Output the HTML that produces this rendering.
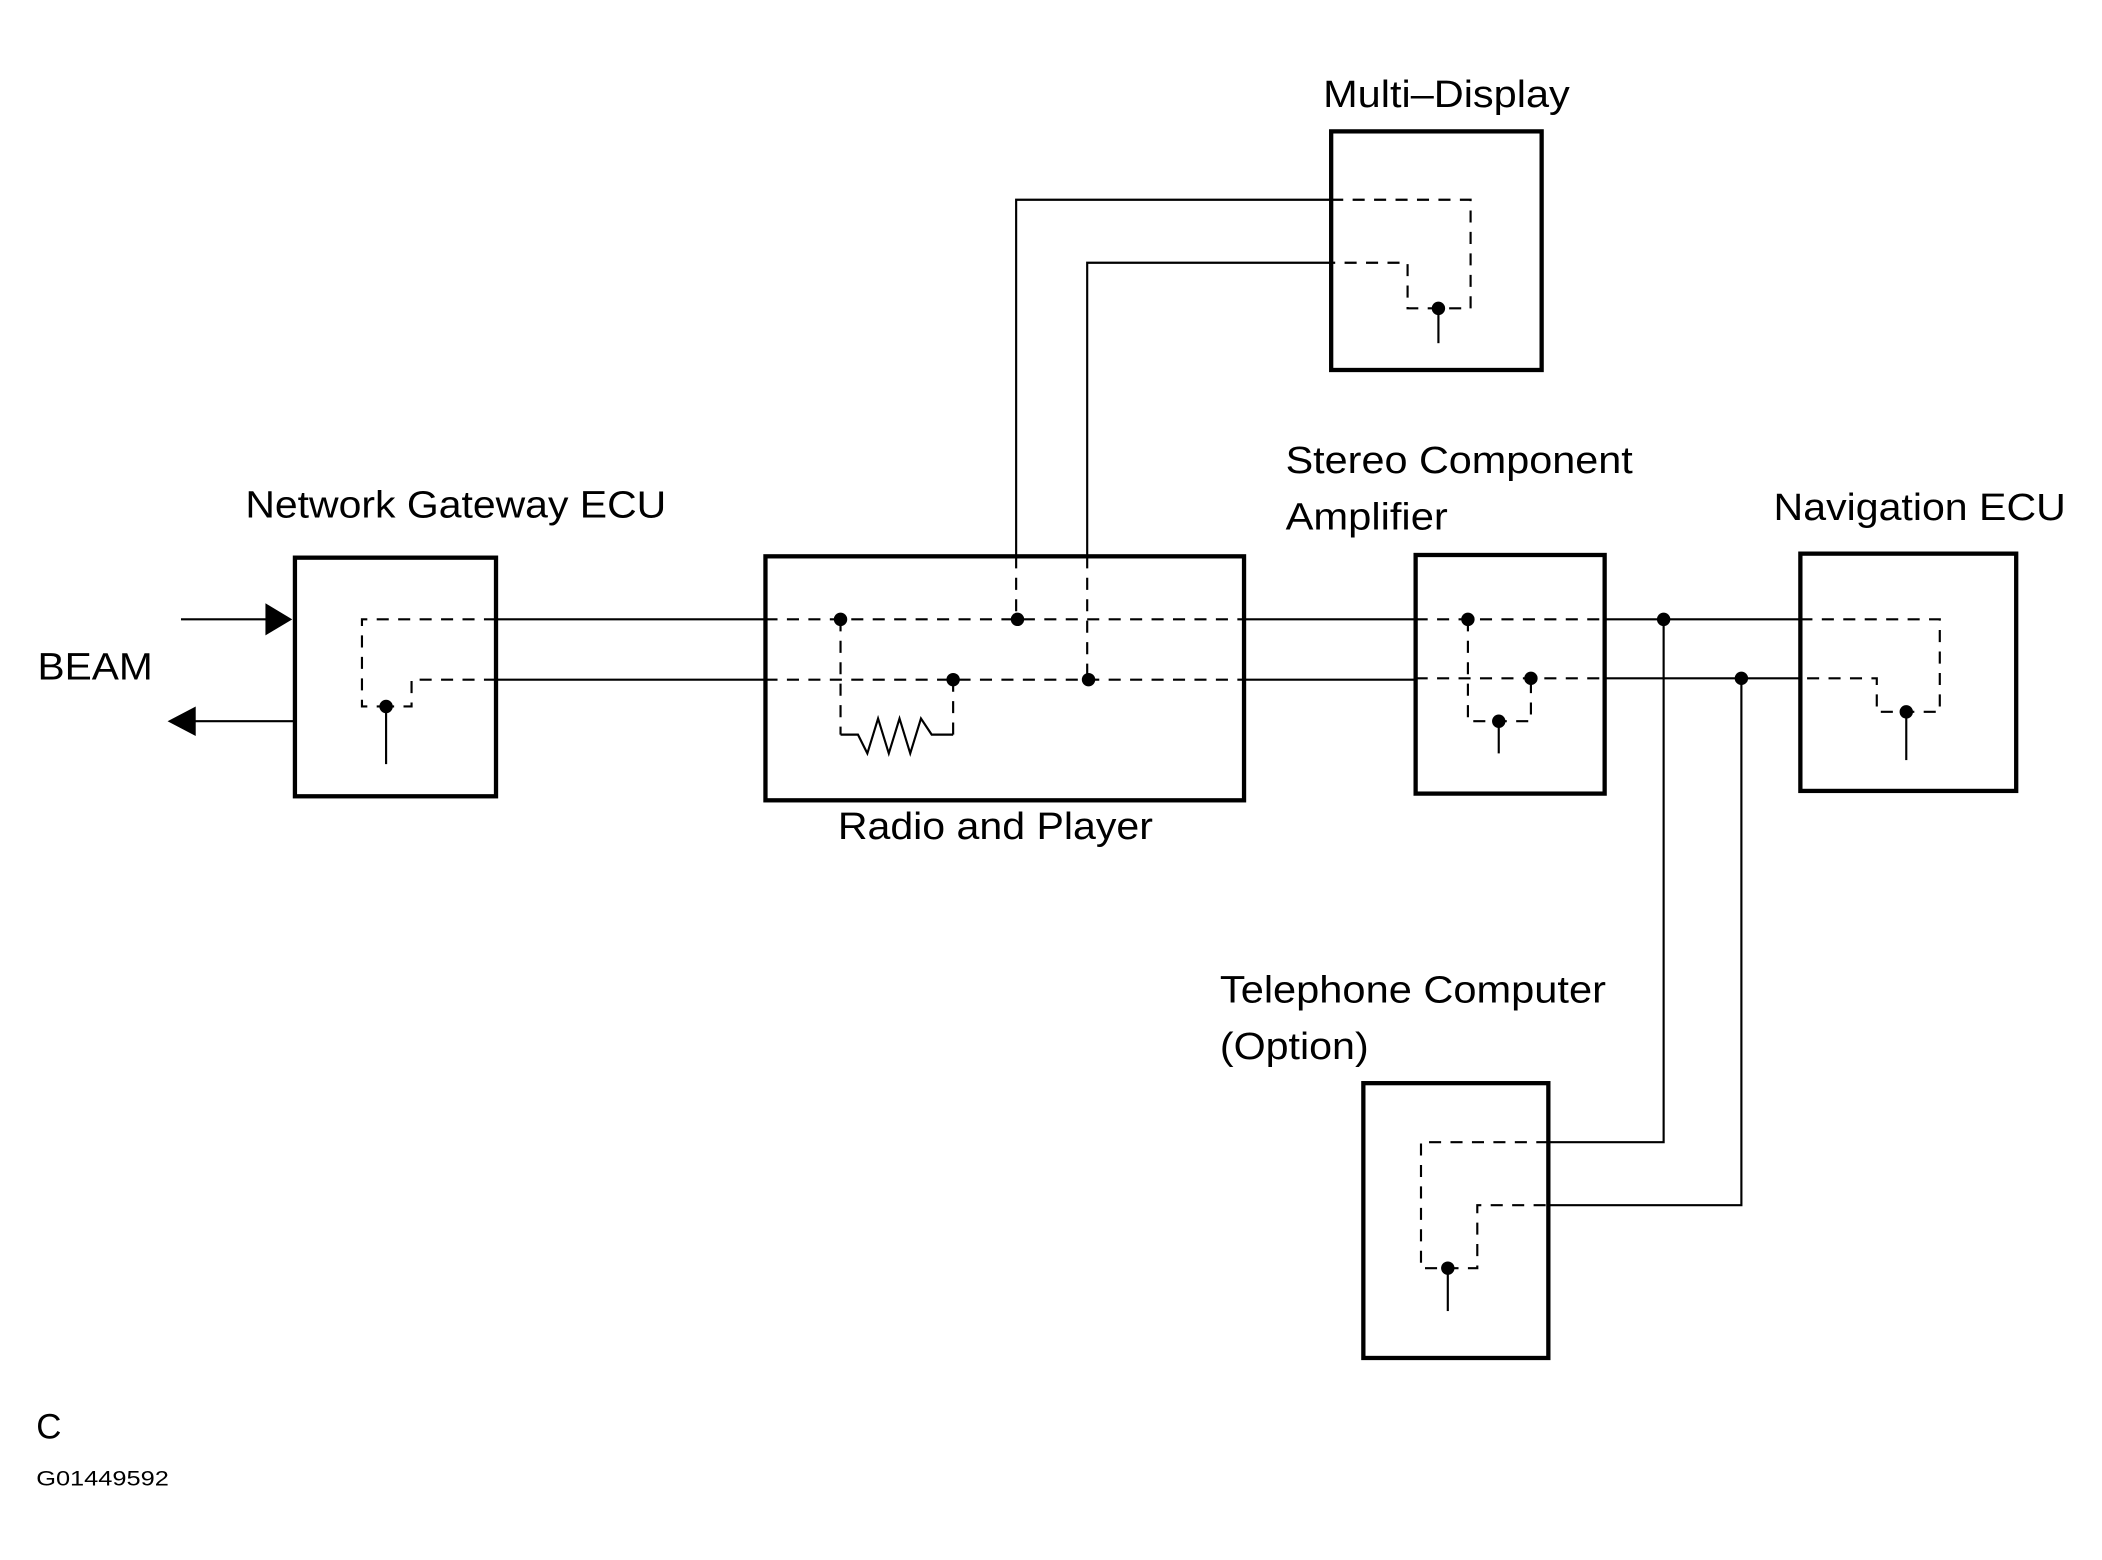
<!DOCTYPE html>
<html><head><meta charset="utf-8"><style>html,body{margin:0;padding:0;background:#fff}svg{display:block}</style></head>
<body>
<svg width="2102" height="1560" viewBox="0 0 1568 1163.7" xmlns="http://www.w3.org/2000/svg" font-family="Liberation Sans, sans-serif" fill="none" stroke="#000">
<rect x="0" y="0" width="1568" height="1164" fill="#fff" stroke="none"/>
<g stroke-width="3.2">
<rect x="220" y="416" width="150" height="178"/>
<rect x="571" y="415" width="357" height="182"/>
<rect x="993" y="98" width="157" height="178"/>
<rect x="1056" y="414" width="141" height="178"/>
<rect x="1343" y="413" width="161" height="177"/>
<rect x="1017" y="808" width="138" height="205"/>
</g>
<g stroke-width="1.6">
<line x1="135" y1="462" x2="202" y2="462"/>
<line x1="145" y1="538" x2="220" y2="538"/>
<line x1="370" y1="462" x2="571" y2="462"/>
<line x1="370" y1="507" x2="571" y2="507"/>
<line x1="928" y1="462" x2="1056" y2="462"/>
<line x1="928" y1="507" x2="1056" y2="507"/>
<line x1="1197" y1="462" x2="1343" y2="462"/>
<line x1="1197" y1="506" x2="1343" y2="506"/>
<polyline points="758,415 758,149 993,149"/>
<polyline points="811,415 811,196 993,196"/>
<polyline points="1241,462 1241,852 1155,852"/>
<polyline points="1299,506 1299,899 1155,899"/>
<line x1="288" y1="527" x2="288" y2="570"/>
<line x1="1073" y1="230" x2="1073" y2="256"/>
<line x1="1118" y1="538" x2="1118" y2="562"/>
<line x1="1422" y1="531" x2="1422" y2="567"/>
<line x1="1080" y1="946" x2="1080" y2="978"/>
<polyline points="627,548 640,548 647,562 655,536 663,562 671,536 679,562 687,536 695,548 711,548"/>
</g>
<g stroke-width="1.6" stroke-dasharray="9,7">
<polyline points="370,462 270,462 270,527 288,527"/>
<polyline points="370,507 307,507 307,527 288,527"/>
<line x1="571" y1="462" x2="928" y2="462"/>
<line x1="571" y1="507" x2="928" y2="507"/>
<line x1="627" y1="462" x2="627" y2="548"/>
<line x1="711" y1="507" x2="711" y2="548"/>
<line x1="758" y1="415" x2="758" y2="462"/>
<line x1="811" y1="415" x2="811" y2="507"/>
<polyline points="993,149 1097,149 1097,230 1050,230 1050,196 993,196"/>
<line x1="1056" y1="462" x2="1197" y2="462"/>
<line x1="1056" y1="506" x2="1197" y2="506"/>
<polyline points="1095,462 1095,538 1142,538 1142,506"/>
<polyline points="1343,462 1447,462 1447,531 1400,531 1400,506 1343,506"/>
<polyline points="1155,852 1060,852 1060,946 1102,946 1102,899 1155,899"/>
</g>
<g fill="#000" stroke="none">
<polygon points="198,450 218,462 198,474"/>
<polygon points="125,538 146,527 146,549"/>
<circle cx="288" cy="527" r="5"/>
<circle cx="627" cy="462" r="5"/>
<circle cx="759" cy="462" r="5"/>
<circle cx="711" cy="507" r="5"/>
<circle cx="812" cy="507" r="5"/>
<circle cx="1073" cy="230" r="5"/>
<circle cx="1095" cy="462" r="5"/>
<circle cx="1142" cy="506" r="5"/>
<circle cx="1118" cy="538" r="5"/>
<circle cx="1241" cy="462" r="5"/>
<circle cx="1299" cy="506" r="5"/>
<circle cx="1422" cy="531" r="5"/>
<circle cx="1080" cy="946" r="5"/>
</g>
<g fill="#000" stroke="none" font-size="28">
<text x="28" y="507" textLength="86" lengthAdjust="spacingAndGlyphs">BEAM</text>
<text x="987" y="80" textLength="184" lengthAdjust="spacingAndGlyphs">Multi–Display</text>
<text x="183" y="386" textLength="314" lengthAdjust="spacingAndGlyphs">Network Gateway ECU</text>
<text x="959" y="353" textLength="259" lengthAdjust="spacingAndGlyphs">Stereo Component</text>
<text x="959" y="395" textLength="121" lengthAdjust="spacingAndGlyphs">Amplifier</text>
<text x="1323" y="388" textLength="218" lengthAdjust="spacingAndGlyphs">Navigation ECU</text>
<text x="625" y="626" textLength="235" lengthAdjust="spacingAndGlyphs">Radio and Player</text>
<text x="910" y="748" textLength="288" lengthAdjust="spacingAndGlyphs">Telephone Computer</text>
<text x="910" y="790" textLength="111" lengthAdjust="spacingAndGlyphs">(Option)</text>
<text x="27" y="1073" font-size="26">C</text>
<text x="27" y="1108" font-size="16" textLength="99" lengthAdjust="spacingAndGlyphs">G01449592</text>
</g>
</svg>
</body></html>
